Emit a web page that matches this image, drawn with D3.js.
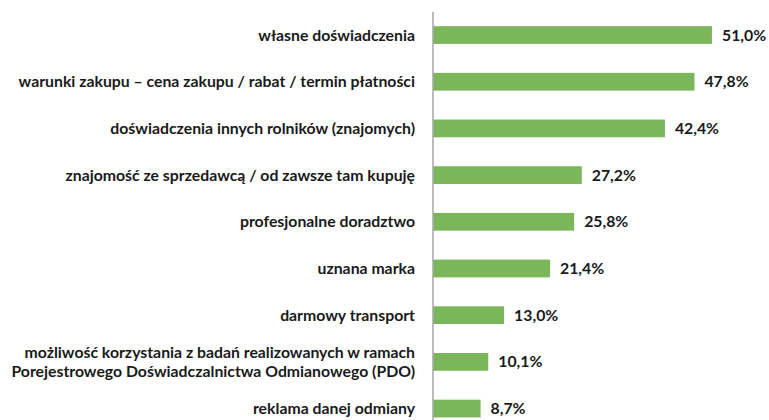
<!DOCTYPE html>
<html><head><meta charset="utf-8">
<script src="https://cdn.jsdelivr.net/npm/d3@7"></script>
<style>body{margin:0;background:#fff}svg{display:block}</style>
</head><body>
<svg id="c" width="769" height="420"></svg>
<script>
const categories = [
  ["własne doświadczenia"],
  ["warunki zakupu – cena zakupu / rabat / termin płatności"],
  ["doświadczenia innych rolników (znajomych)"],
  ["znajomość ze sprzedawcą / od zawsze tam kupuję"],
  ["profesjonalne doradztwo"],
  ["uznana marka"],
  ["darmowy transport"],
  ["możliwość korzystania z badań realizowanych w ramach", "Porejestrowego Doświadczalnictwa Odmianowego (PDO)"],
  ["reklama danej odmiany"]
];
const values = [51.0, 47.8, 42.4, 27.2, 25.8, 21.4, 13.0, 10.1, 8.7];
const valueLabels = ["51,0%","47,8%","42,4%","27,2%","25,8%","21,4%","13,0%","10,1%","8,7%"];

const svg = d3.select("#c");
const font = "Lato, 'Open Sans', sans-serif";
const x = d3.scaleLinear().domain([0, 55]).range([433, 433 + 55 * 5.47]);
const ids = d3.range(categories.length);
const y = d3.scaleBand().domain(ids).range([11.7, 431.9]).paddingInner(0.62).paddingOuter(0.31);

svg.selectAll("rect.bar").data(ids).join("rect")
  .attr("class","bar")
  .attr("x", x(0))
  .attr("y", i => y(i))
  .attr("width", i => x(values[i]) - x(0))
  .attr("height", y.bandwidth())
  .attr("fill", "#7cb65a");

// axis line
svg.append("line").attr("x1", x(0)).attr("x2", x(0)).attr("y1", 12).attr("y2", 420)
  .attr("stroke", "#a6a6a6").attr("stroke-width", 1.5);

const lab = svg.selectAll("text.cat").data(ids).join("text")
  .attr("class","cat")
  .attr("text-anchor","end")
  .attr("font-family", font).attr("font-weight", 700).attr("font-size", 15.8)
  .attr("fill","#1a1a1a");
lab.each(function(i){
  const lines = categories[i];
  const cy = y(i) + y.bandwidth()/2;
  const lh = 19;
  lines.forEach((t, k) => {
    d3.select(this).append("tspan")
      .attr("x", 415)
      .attr("y", cy + (k - (lines.length-1)/2) * lh)
      .attr("dy", "0.35em")
      .text(t);
  });
});

svg.selectAll("text.val").data(ids).join("text")
  .attr("class","val")
  .attr("x", i => x(values[i]) + 10)
  .attr("y", i => y(i) + y.bandwidth()/2)
  .attr("dy","0.35em")
  .attr("font-family", font).attr("font-weight", 700).attr("font-size", 15.8)
  .attr("fill","#1a1a1a")
  .text(i => valueLabels[i]);
</script>
</body></html>
